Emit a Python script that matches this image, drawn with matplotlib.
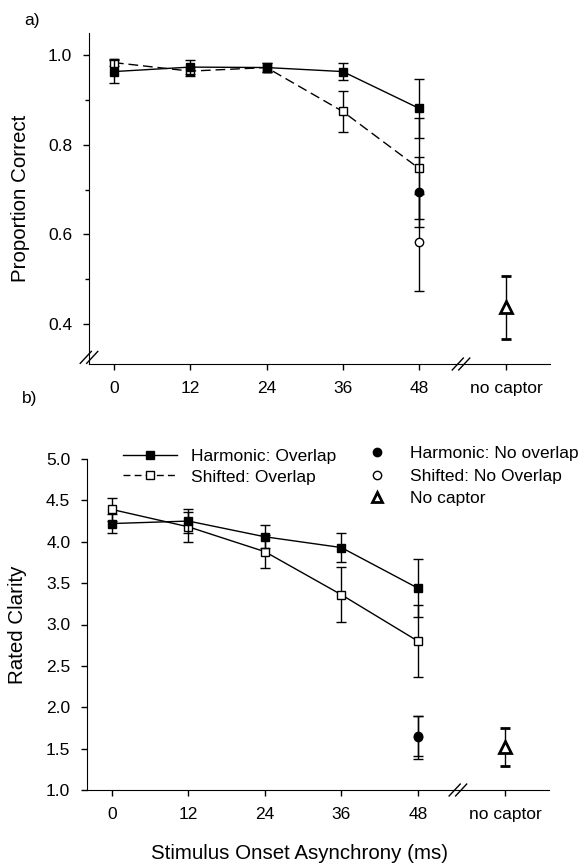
import matplotlib
matplotlib.use('Agg')
import matplotlib.pyplot as plt
from matplotlib.lines import Line2D

plt.rcParams['font.family'] = ['Liberation Sans', 'DejaVu Sans']
plt.rcParams['font.size'] = 12.5

# x categories (ms) + "no captor"
soa = [0, 12, 24, 36, 48]
tick_labels = ['0', '12', '24', '36', '48', 'no captor']

# panel a: proportion correct
pc_harm_ov = [0.963, 0.973, 0.972, 0.963, 0.881]
pc_harm_ov_err = [0.026, 0.015, 0.010, 0.018, 0.065]
pc_shift_ov = [0.983, 0.964, 0.972, 0.874, 0.747]
pc_shift_ov_err = [0.008, 0.010, 0.010, 0.045, 0.112]
pc_harm_noov = [0.695]
pc_harm_noov_err = [0.078]
pc_shift_noov = [0.582]
pc_shift_noov_err = [0.109]
pc_nocap = [0.437]
pc_nocap_err = [0.070]

# panel b: rated clarity
rc_harm_ov = [4.22, 4.25, 4.06, 3.93, 3.44]
rc_harm_ov_err = [0.12, 0.14, 0.14, 0.18, 0.35]
rc_shift_ov = [4.39, 4.18, 3.88, 3.36, 2.80]
rc_shift_ov_err = [0.14, 0.18, 0.20, 0.33, 0.43]
rc_harm_noov = [1.64]
rc_harm_noov_err = [0.26]
rc_shift_noov = [1.65]
rc_shift_noov_err = [0.24]
rc_nocap = [1.52]
rc_nocap_err = [0.235]

NOCAP_X = 61.7
XLIM = (-3.93, 68.6)
tick_pos = soa + [NOCAP_X]

fig = plt.figure(figsize=(5.88, 8.64), dpi=100)
ax1 = fig.add_axes([89 / 588, 1 - 364 / 864, 461 / 588, 331 / 864])
ax2 = fig.add_axes([87 / 588, 1 - 790 / 864, 462 / 588, 331 / 864])

eb = dict(color='black', ecolor='black', elinewidth=1, capsize=3.5, capthick=1,
          markersize=6, markeredgewidth=1, markeredgecolor='black')


def draw_panel(ax, hov, hov_e, sov, sov_e, hno, hno_e, sno, sno_e, nc, nc_e, shifted_ls):
    ax.errorbar(soa, sov, yerr=sov_e, fmt='s', linestyle=shifted_ls, lw=1,
                markerfacecolor='white', zorder=3, **eb)
    ax.errorbar(soa, hov, yerr=hov_e, fmt='s', linestyle='-', lw=1,
                markerfacecolor='black', zorder=4, **eb)
    ax.errorbar([48], sno, yerr=sno_e, fmt='o', markerfacecolor='white', zorder=3, **eb)
    ax.errorbar([48], hno, yerr=hno_e, fmt='o', markerfacecolor='black', zorder=4, **eb)
    nc_style = dict(eb)
    nc_style.update(markersize=8, markeredgewidth=2)
    ax.errorbar([NOCAP_X], nc, yerr=nc_e, fmt='^', markerfacecolor='white', zorder=4, **nc_style)

    ax.set_xlim(*XLIM)
    ax.set_xticks(tick_pos)
    ax.set_xticklabels(tick_labels)
    ax.spines['top'].set_visible(False)
    ax.spines['right'].set_visible(False)
    ax.tick_params(direction='out', length=4, width=1, pad=8)
    ax.tick_params(which='minor', direction='out', length=3, width=1)


draw_panel(ax1, pc_harm_ov, pc_harm_ov_err, pc_shift_ov, pc_shift_ov_err,
           pc_harm_noov, pc_harm_noov_err, pc_shift_noov, pc_shift_noov_err,
           pc_nocap, pc_nocap_err, (0, (7, 3.5)))
draw_panel(ax2, rc_harm_ov, rc_harm_ov_err, rc_shift_ov, rc_shift_ov_err,
           rc_harm_noov, rc_harm_noov_err, rc_shift_noov, rc_shift_noov_err,
           rc_nocap, rc_nocap_err, '-')

# panel a axes
ax1.set_ylim(0.311, 1.049)
ax1.set_yticks([0.4, 0.6, 0.8, 1.0])
ax1.set_yticks([0.5, 0.7, 0.9], minor=True)
ax1.set_yticklabels(['0.4', '0.6', '0.8', '1.0'])
ax1.set_ylabel('Proportion Correct', fontsize=14.8)
ax1.yaxis.set_label_coords(-0.128, 0.5)

# panel b axes
ax2.set_ylim(1.0, 5.0)
ax2.set_yticks([1.0, 1.5, 2.0, 2.5, 3.0, 3.5, 4.0, 4.5, 5.0])
ax2.set_yticklabels(['1.0', '1.5', '2.0', '2.5', '3.0', '3.5', '4.0', '4.5', '5.0'])
ax2.set_ylabel('Rated Clarity', fontsize=14.8)
ax2.yaxis.set_label_coords(-0.13, 0.5)
ax2.set_xlabel('Stimulus Onset Asynchrony (ms)', fontsize=14.8)
ax2.xaxis.set_label_coords(0.461, -0.164)

# axis break marks
def slash(ax, x, y):
    dx, dy = 0.012, 0.018
    for off in (-0.007, 0.007):
        ax.plot([x - dx + off, x + dx + off], [y - dy, y + dy], transform=ax.transAxes,
                color='black', lw=1, clip_on=False, zorder=5)

slash(ax1, (54.6 - XLIM[0]) / (XLIM[1] - XLIM[0]), 0.0)
slash(ax1, 0.0, 0.02)
slash(ax2, (54.3 - XLIM[0]) / (XLIM[1] - XLIM[0]), 0.0)

# legends
h1 = Line2D([], [], color='black', lw=1, marker='s', markersize=6,
            markerfacecolor='black', markeredgecolor='black')
h2 = Line2D([], [], color='black', lw=1, linestyle=(0, (5, 3)), marker='s', markersize=6,
            markerfacecolor='white', markeredgecolor='black')
leg1 = ax2.legend([h1, h2], ['Harmonic: Overlap', 'Shifted: Overlap'], frameon=False,
                  loc='upper left', bbox_to_anchor=(123 / 588, 1 - 449 / 864),
                  bbox_transform=fig.transFigure, borderpad=0, borderaxespad=0,
                  handlelength=3.1, handletextpad=0.8, labelspacing=0.3, fontsize=12.5)
ax2.add_artist(leg1)
h3 = Line2D([], [], linestyle='none', marker='o', markersize=6,
            markerfacecolor='black', markeredgecolor='black')
h4 = Line2D([], [], linestyle='none', marker='o', markersize=6,
            markerfacecolor='white', markeredgecolor='black')
h5 = Line2D([], [], linestyle='none', marker='^', markersize=7, markeredgewidth=2,
            markerfacecolor='white', markeredgecolor='black')
ax2.legend([h3, h4, h5], ['Harmonic: No overlap', 'Shifted: No Overlap', 'No captor'],
           frameon=False, loc='upper left', bbox_to_anchor=(368 / 588, 1 - 446 / 864),
           bbox_transform=fig.transFigure, borderpad=0, borderaxespad=0,
           handlelength=1.0, handletextpad=1.4, labelspacing=0.42, fontsize=12.5)

fig.text(32 / 588, 1 - 20 / 864, 'a)', ha='center', va='center', fontsize=12.5)
fig.text(30 / 588, 1 - 398 / 864, 'b)', ha='center', va='center', fontsize=12.5)

fig.savefig('out.png', dpi=100, facecolor='white')
